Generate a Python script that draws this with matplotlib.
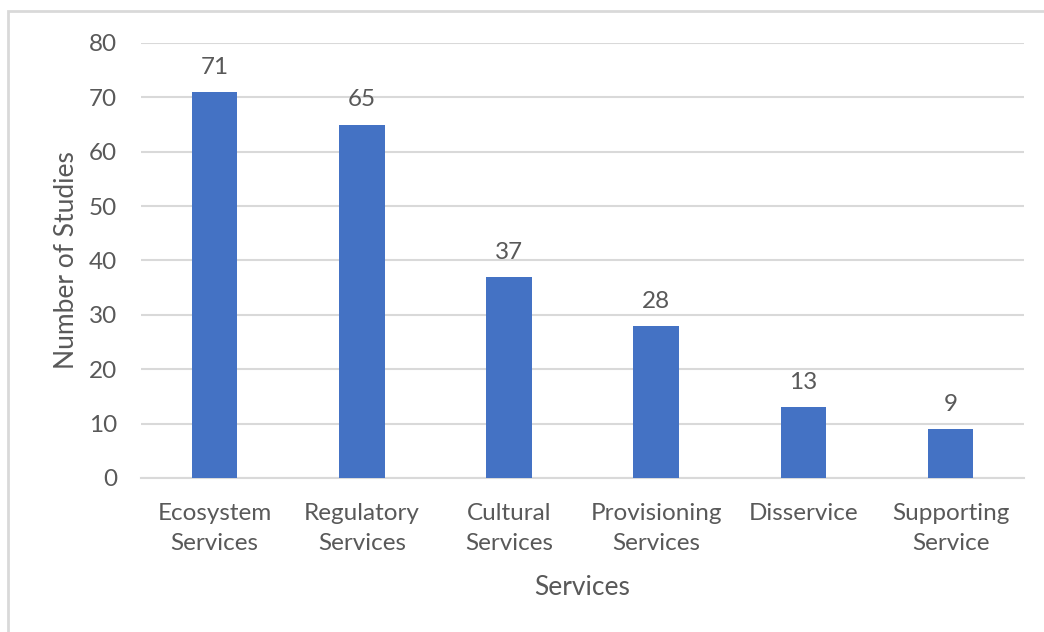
import matplotlib.pyplot as plt
from matplotlib.patches import Rectangle

categories = ['Ecosystem\nServices', 'Regulatory\nServices', 'Cultural\nServices',
              'Provisioning\nServices', 'Disservice', 'Supporting\nService']
studies = [71, 65, 37, 28, 13, 9]
yticks = [0, 10, 20, 30, 40, 50, 60, 70, 80]

plt.rcParams['font.family'] = ['Lato', 'DejaVu Sans']
text_col = '#595959'
grid_col = '#d9d9d9'

fig = plt.figure(figsize=(10.44, 6.32), dpi=100)
ax = fig.add_axes([0.135, 0.2437, 0.846, 0.6883])

# chart border (cropped on right and bottom)
fig.patches.append(Rectangle((8 / 1044, -0.1), 1.2, 1.1 - 11 / 632,
                             transform=fig.transFigure, fill=False,
                             edgecolor=grid_col, linewidth=2))

x = range(len(categories))
bars = ax.bar(x, studies, width=0.31, color='#4472C4', zorder=3)
for b, v in zip(bars, studies):
    ax.text(b.get_x() + b.get_width() / 2, v + 2.6, str(v), ha='center', va='bottom',
            fontsize=17.5, color=text_col)

ax.set_xlim(-0.5, len(categories) - 0.5)
ax.set_ylim(0, 80)
ax.set_yticks(yticks)
ax.set_xticks(list(x))
ax.set_xticklabels(categories, fontsize=17.5, color=text_col, linespacing=1.55)
ax.tick_params(axis='y', labelsize=17.5, labelcolor=text_col, length=0, pad=17)
ax.tick_params(axis='x', length=0, pad=18)
ax.grid(axis='y', color=grid_col, linewidth=1.5, zorder=0)
for s in ['top', 'right', 'left']:
    ax.spines[s].set_visible(False)
ax.spines['bottom'].set_color(grid_col)
ax.spines['bottom'].set_linewidth(1.5)

ax.set_ylabel('Number of Studies', fontsize=19, color=text_col, labelpad=7)
ax.set_xlabel('Services', fontsize=19, color=text_col, labelpad=15)

fig.savefig('out.png', dpi=100)
